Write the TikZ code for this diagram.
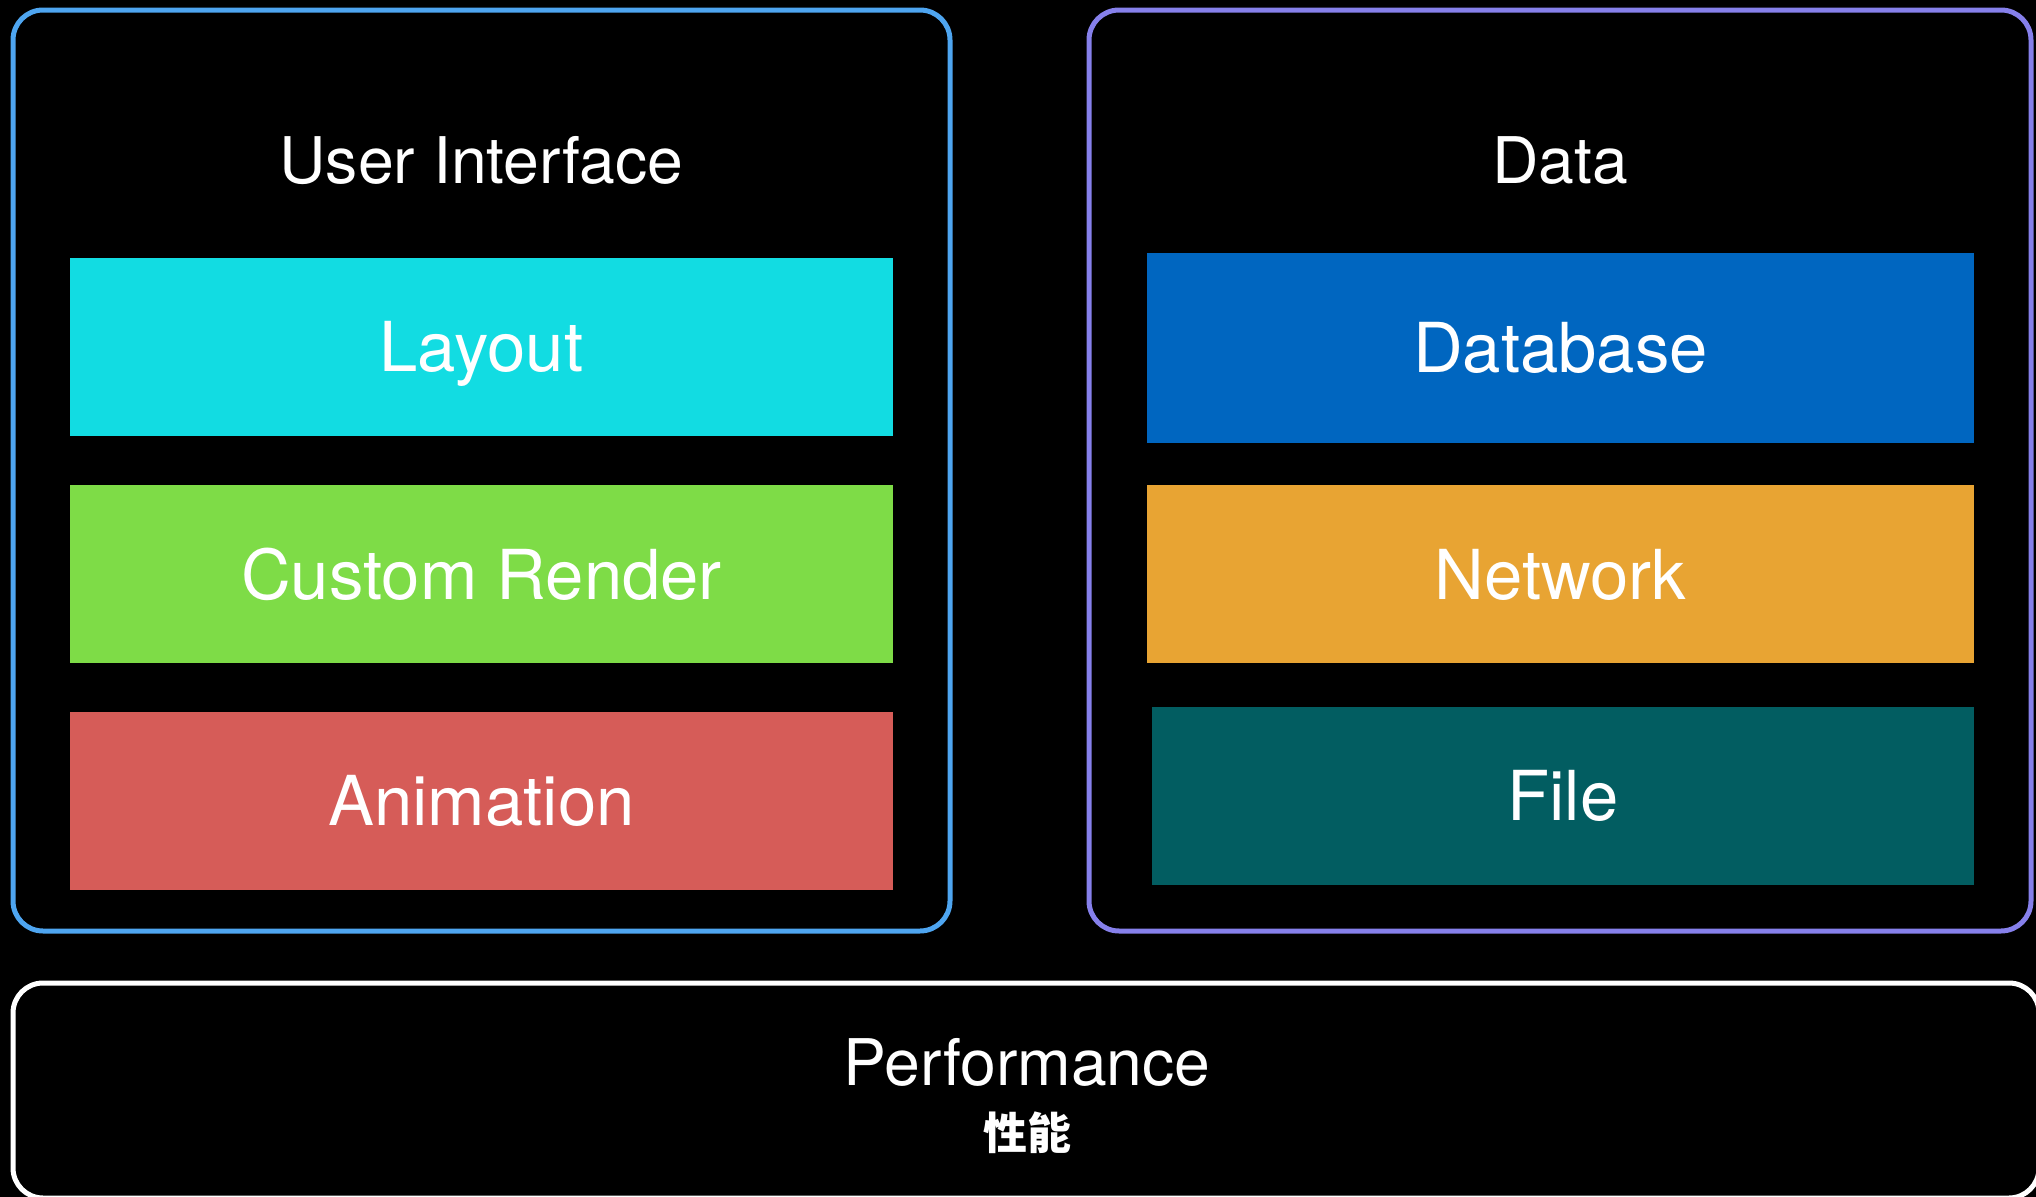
\documentclass[tikz,border=0pt]{standalone}
\usepackage{fontspec}
\setmainfont{TeX Gyre Heros}
\newfontfamily\cjkfont{Noto Sans CJK SC}
\usetikzlibrary{%
  positioning% wg. " of "
}
\definecolor{uiblue}{RGB}{78,165,240}
\definecolor{datapurple}{RGB}{134,128,235}
\definecolor{layoutcyan}{RGB}{18,220,226}
\definecolor{rendergreen}{RGB}{126,220,71}
\definecolor{animred}{RGB}{214,92,88}
\definecolor{dbblue}{RGB}{0,102,192}
\definecolor{netorange}{RGB}{232,164,51}
\definecolor{fileteal}{RGB}{2,93,97}

\begin{document}
\begin{tikzpicture}
[x=0.1mm, y=-0.1mm, node distance=4.8mm,
frame/.style={rectangle, rounded corners=3mm, draw, line width=0.5mm, inner sep=0pt},
layer/.style={rectangle, inner sep=0pt, minimum width=82.3mm, minimum height=17.8mm, text=white,
  font=\fontsize{19.6}{23}\selectfont, text height=14.1pt, text depth=0pt},
title/.style={text=white, font=\fontsize{18.3}{22}\selectfont, anchor=base, inner sep=0pt}]

\useasboundingbox (0,0) rectangle (2036,1197);
\fill[black] (0,0) rectangle (2036,1197);

% frames
\node[frame, draw=uiblue, minimum width=93.7mm, minimum height=92.1mm] (ui) at (481.5,470.5) {};
\node[frame, draw=datapurple, minimum width=94.2mm, minimum height=92.1mm] (data) at (1560,470.5) {};
\node[frame, draw=white, minimum width=202.6mm, minimum height=21.5mm] (perf) at (1026,1090.5) {};

\node[title] (uititle) at (481.5,184) {User Interface};
\node[title] (datatitle) at (1560,184) {Data};
\node[title] (perftitle) at (1027,1085) {Performance};
\node[text=white, anchor=base, inner sep=0pt, font=\fontsize{12.5}{15}\selectfont\cjkfont\bfseries] (perfcn) at (1027,1149) {性能};

% user interface
\node[layer, fill=layoutcyan] (layout) at (481.5,347) {Layout};
\node[layer, fill=rendergreen, below=of layout] (render) {Custom Render};
\node[layer, fill=animred, below=4.7mm of render] (anim) {Animation};

% data
\node[layer, fill=dbblue, minimum width=82.7mm, minimum height=19mm] (db) at (1560.5,348) {Database};
\node[layer, fill=netorange, minimum width=82.7mm, below=4.1mm of db] (net) {Network};
\node[layer, fill=fileteal, minimum width=82.2mm, below=4.2mm of net, xshift=0.25mm] (file) {File};
\end{tikzpicture}
\end{document}
